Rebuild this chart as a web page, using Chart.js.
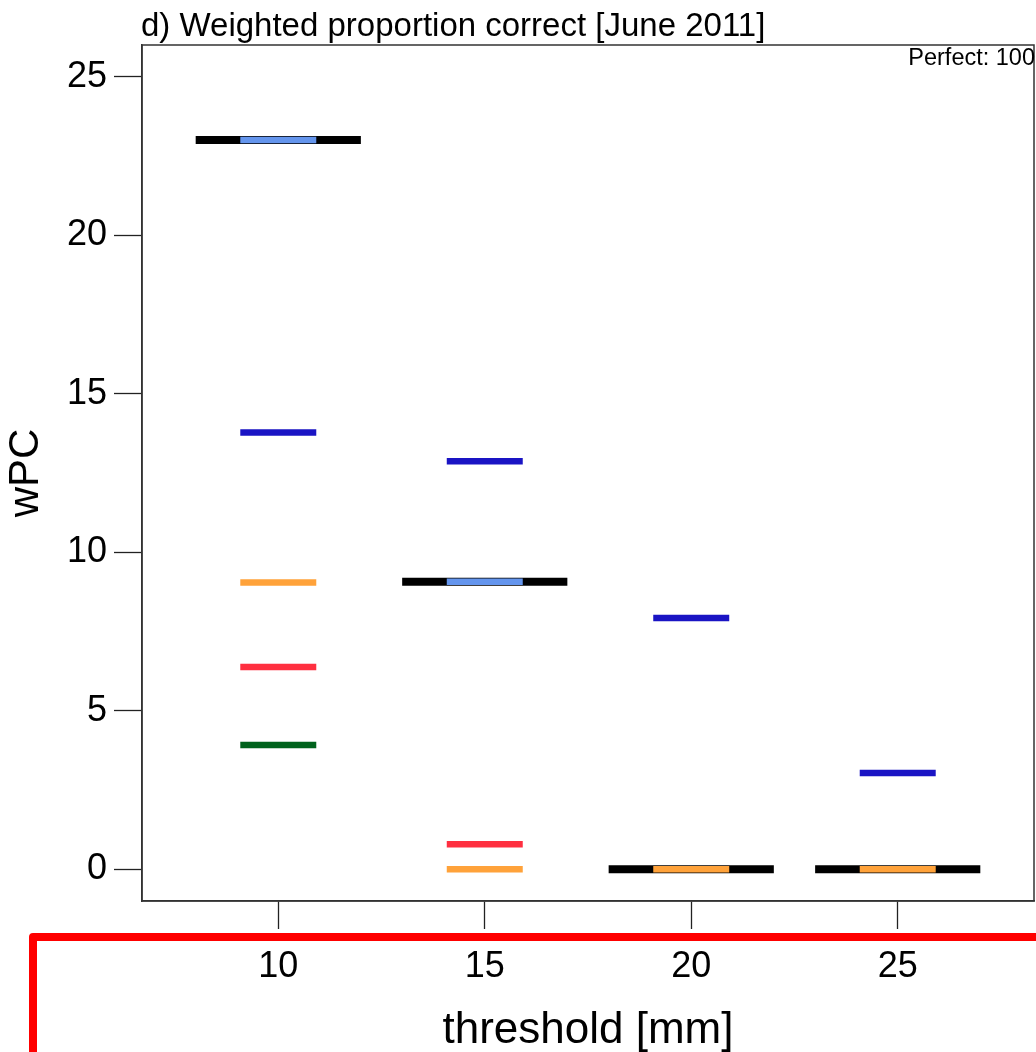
<!DOCTYPE html>
<html>
<head>
<meta charset="utf-8">
<title>Weighted proportion correct</title>
<script src="https://cdn.jsdelivr.net/npm/chart.js@4/dist/chart.umd.min.js"></script>
<style>
  html, body { margin: 0; padding: 0; background: #ffffff; }
  #wrap { width: 1036px; height: 1052px; position: relative; }
</style>
</head>
<body>
<div id="wrap"><canvas id="c" width="1036" height="1052"></canvas></div>
<script>
// Rainfall thresholds (mm) on the x axis
const thresholds = [10, 15, 20, 25];
const yTicks = [0, 5, 10, 15, 20, 25];

// wPC per threshold for each series (null = not shown)
const blackWide   = [23.0, 9.07, 0.0, 0.0];
const lightBlue   = [23.0, 9.07, null, null];
const darkBlue    = [13.78, 12.87, 7.93, 3.04];
const orange      = [9.05, 0.0, 0.0, 0.0];
const red         = [6.38, 0.79, null, null];
const darkGreen   = [3.92, null, null, null];

// Build horizontal segments centred on each threshold
function segments(values, halfWidth) {
  const pts = [];
  values.forEach((v, i) => {
    if (v === null) return;
    const t = thresholds[i];
    pts.push({ x: t - halfWidth, y: v });
    pts.push({ x: t + halfWidth, y: v });
    pts.push({ x: t, y: null });
  });
  return pts;
}

function seg(label, values, color, halfWidth, width, order) {
  return {
    label: label,
    data: segments(values, halfWidth),
    borderColor: color,
    backgroundColor: color,
    borderWidth: width,
    borderCapStyle: 'butt',
    pointRadius: 0,
    pointHoverRadius: 0,
    tension: 0,
    spanGaps: false,
    fill: false,
    order: order
  };
}

const FONT = '"Liberation Sans", Arial, Helvetica, sans-serif';

const decorations = {
  id: 'decorations',
  afterDraw(chart) {
    const ctx = chart.ctx;
    const a = chart.chartArea;
    ctx.save();
    // plot frame
    ctx.strokeStyle = '#333333';
    ctx.lineWidth = 1.5;
    ctx.strokeRect(a.left, a.top, a.right - a.left, a.bottom - a.top);

    ctx.fillStyle = '#000000';
    // panel title
    ctx.font = '33px ' + FONT;
    ctx.textAlign = 'left';
    ctx.textBaseline = 'alphabetic';
    ctx.fillText('d) Weighted proportion correct [June 2011]', 141, 36);

    // perfect score note
    ctx.font = '23.5px ' + FONT;
    ctx.textAlign = 'right';
    ctx.fillText('Perfect: 100', 1035, 65);

    // x axis title
    ctx.font = '44px ' + FONT;
    ctx.textAlign = 'center';
    ctx.fillText('threshold [mm]', (a.left + a.right) / 2, 1043);

    // y axis title
    ctx.save();
    ctx.translate(38, (a.top + a.bottom) / 2);
    ctx.rotate(-Math.PI / 2);
    ctx.font = '42px ' + FONT;
    ctx.textAlign = 'center';
    ctx.fillText('wPC', 0, 0);
    ctx.restore();

    // highlight frame around the x axis labels
    ctx.strokeStyle = '#ff0000';
    ctx.lineWidth = 8;
    ctx.lineJoin = 'round';
    ctx.beginPath();
    ctx.moveTo(33, 1070);
    ctx.lineTo(33, 937);
    ctx.lineTo(1060, 937);
    ctx.stroke();
    ctx.restore();
  }
};

new Chart(document.getElementById('c'), {
  type: 'line',
  data: {
    datasets: [
      seg('black', blackWide, '#000000', 2.0, 8, 10),
      seg('light blue', lightBlue, '#6495ed', 0.92, 6.5, 5),
      seg('blue', darkBlue, '#1a14c4', 0.92, 6.5, 4),
      seg('orange', orange, '#ffa23a', 0.92, 6.5, 3),
      seg('red', red, '#ff2f40', 0.92, 6.5, 2),
      seg('green', darkGreen, '#00621c', 0.92, 6.5, 1)
    ]
  },
  options: {
    responsive: false,
    animation: false,
    events: [],
    layout: { padding: { top: 45, right: 2, left: 0, bottom: 0 } },
    plugins: {
      legend: { display: false },
      title: { display: false },
      tooltip: { enabled: false }
    },
    scales: {
      x: {
        type: 'linear',
        min: 6.7,
        max: 28.3,
        afterFit(scale) { scale.height = 151; },
        afterBuildTicks(scale) { scale.ticks = thresholds.map(v => ({ value: v })); },
        grid: {
          drawOnChartArea: false,
          drawTicks: true,
          tickLength: 28,
          tickColor: '#222222',
          tickWidth: 1.3
        },
        border: { display: true, color: '#333333', width: 1.5 },
        ticks: {
          color: '#000000',
          font: { family: FONT, size: 36 },
          padding: 16,
          maxRotation: 0,
          autoSkip: false
        }
      },
      y: {
        type: 'linear',
        min: -1,
        max: 26,
        afterFit(scale) { scale.width = 142; },
        afterBuildTicks(scale) { scale.ticks = yTicks.map(v => ({ value: v })); },
        grid: {
          drawOnChartArea: false,
          drawTicks: true,
          tickLength: 28,
          tickColor: '#222222',
          tickWidth: 1.3
        },
        border: { display: true, color: '#333333', width: 1.5 },
        ticks: {
          color: '#000000',
          font: { family: FONT, size: 36 },
          padding: 7,
          autoSkip: false
        }
      }
    }
  },
  plugins: [decorations]
});
</script>
</body>
</html>
